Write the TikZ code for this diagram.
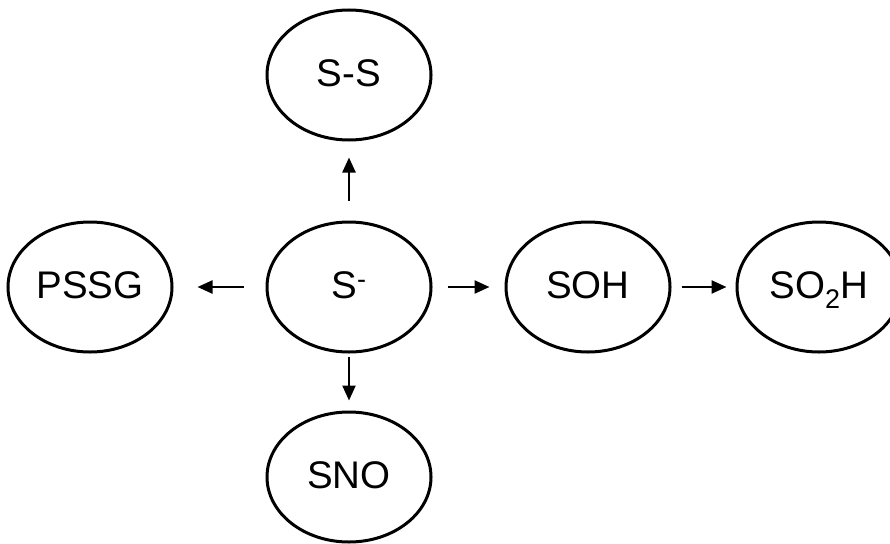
\documentclass[tikz,border=0pt]{standalone}
\usepackage{fontspec}
\setmainfont{Liberation Sans}
\usetikzlibrary{shapes.geometric,arrows.meta}
\begin{document}
\begin{tikzpicture}[x=1pt,y=-1pt,
  spec/.style={ellipse,draw,line width=3pt,minimum width=164pt,minimum height=130pt,inner sep=0pt,text height=28pt,text depth=6pt,font=\fontsize{38.5}{41}\selectfont},
  conv/.style={line width=2.4pt,-{Triangle[length=15pt,width=13pt]}}]
\useasboundingbox (0,0) rectangle (890,543);
\node[spec] (s) at (349,287) {S\textsuperscript{-}};
\node[spec] (ss) at (349,75) {S-S};
\node[spec] (pssg) at (90,287) {PSSG};
\node[spec] (soh) at (588,287) {SOH};
\node[spec] (so2h) at (819,287) {SO\textsubscript{2}H};
\node[spec] (sno) at (349,477) {SNO};
\draw[conv,shorten <=20pt,shorten >=16pt] (s) -- (ss);
\draw[conv,shorten <=22pt,shorten >=24pt] (s) -- (pssg);
\draw[conv,shorten <=15pt,shorten >=15pt] (s) -- (soh);
\draw[conv,shorten <=10pt,shorten >=9pt] (soh) -- (so2h);
\draw[conv,shorten <=3pt,shorten >=10pt] (s) -- (sno);
\end{tikzpicture}
\end{document}
